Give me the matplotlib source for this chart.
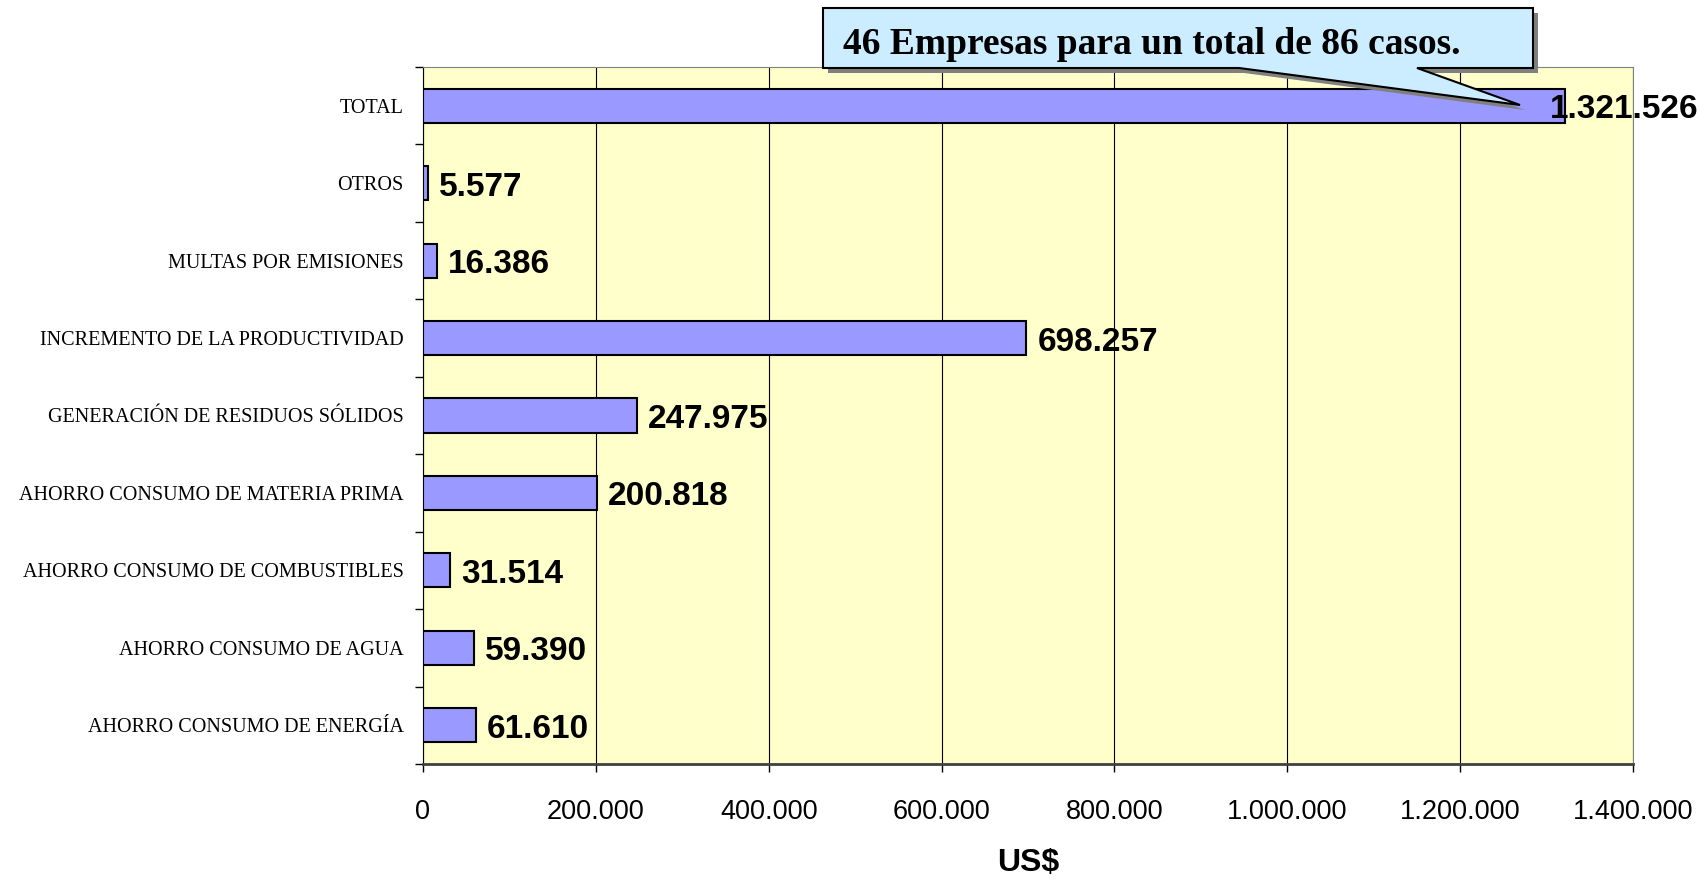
import matplotlib.pyplot as plt
from matplotlib.patches import Polygon
from matplotlib.ticker import FuncFormatter
import numpy as np

# Data (bottom to top)
categories = ['AHORRO CONSUMO DE ENERGÍA', 'AHORRO CONSUMO DE AGUA',
              'AHORRO CONSUMO DE COMBUSTIBLES', 'AHORRO CONSUMO DE MATERIA PRIMA',
              'GENERACIÓN DE RESIDUOS SÓLIDOS', 'INCREMENTO DE LA PRODUCTIVIDAD',
              'MULTAS POR EMISIONES', 'OTROS', 'TOTAL']
values = [61610, 59390, 31514, 200818, 247975, 698257, 16386, 5577, 1321526]
xticks = [0, 200000, 400000, 600000, 800000, 1000000, 1200000, 1400000]
note = '46 Empresas para un total de 86 casos.'


def fmt(v, pos=None):
    return f'{int(v):,}'.replace(',', '.')


W, H = 1700, 882
fig = plt.figure(figsize=(W / 100, H / 100), dpi=100)
ax = fig.add_axes([423 / W, 1 - 764 / H, 1210 / W, 697 / H])
ax.set_facecolor('#FFFFCC')

y = np.arange(len(categories))
ax.barh(y, values, height=0.44, color='#9999FF', edgecolor='black', linewidth=1.5, zorder=3)

ax.set_xlim(0, 1400000)
ax.set_ylim(-0.5, len(categories) - 0.5)
ax.set_xticks(xticks)
ax.xaxis.set_major_formatter(FuncFormatter(fmt))
ax.grid(axis='x', color='black', linewidth=0.8, zorder=1)

# category labels, ticks at category boundaries
ax.set_yticks(y)
ax.set_yticklabels(categories, family='Liberation Serif', fontsize=14.5)
ax.tick_params(axis='y', length=0, pad=14)
ax.set_yticks(np.arange(-0.5, len(categories)), minor=True)
ax.tick_params(axis='y', which='minor', length=6, width=1, color='black')
ax.tick_params(axis='x', length=6, width=1, pad=19, labelsize=19.5)
for lab in ax.get_xticklabels():
    lab.set_family('Liberation Sans')

ax.set_xlabel('US$', family='Liberation Sans', fontsize=23, fontweight='bold', labelpad=17)

for side in ['top', 'right']:
    ax.spines[side].set_color('#808080')
ax.spines['left'].set_color('black')
ax.spines['bottom'].set_color('#404040')
ax.spines['bottom'].set_linewidth(2)

# value labels
for yi, v in zip(y, values):
    off = -15 if v == max(values) else 11
    ax.annotate(fmt(v), (v, yi), xytext=(off, -4), textcoords='offset pixels',
                ha='left', va='center', family='Liberation Sans', fontweight='bold',
                fontsize=24, zorder=5)

# callout (pixel coordinates, y measured from top)
pts = [(823, 8), (1533, 8), (1533, 68), (1417, 68), (1520, 105), (1239, 68), (823, 68)]


def to_fig(p, dx=0, dy=0):
    return ((p[0] + dx) / W, 1 - (p[1] + dy) / H)


shadow = Polygon([to_fig(p, 5, 5) for p in pts], closed=True, transform=fig.transFigure,
                 facecolor='#808080', edgecolor='none', zorder=6)
box = Polygon([to_fig(p) for p in pts], closed=True, transform=fig.transFigure,
              facecolor='#CCECFF', edgecolor='black', linewidth=1.5, zorder=7)
fig.patches.extend([shadow, box])
fig.text(843 / W, 1 - 45 / H, note, family='Liberation Serif', fontweight='bold',
         fontsize=27, ha='left', va='center', zorder=8)

fig.savefig('out.png', dpi=100)
